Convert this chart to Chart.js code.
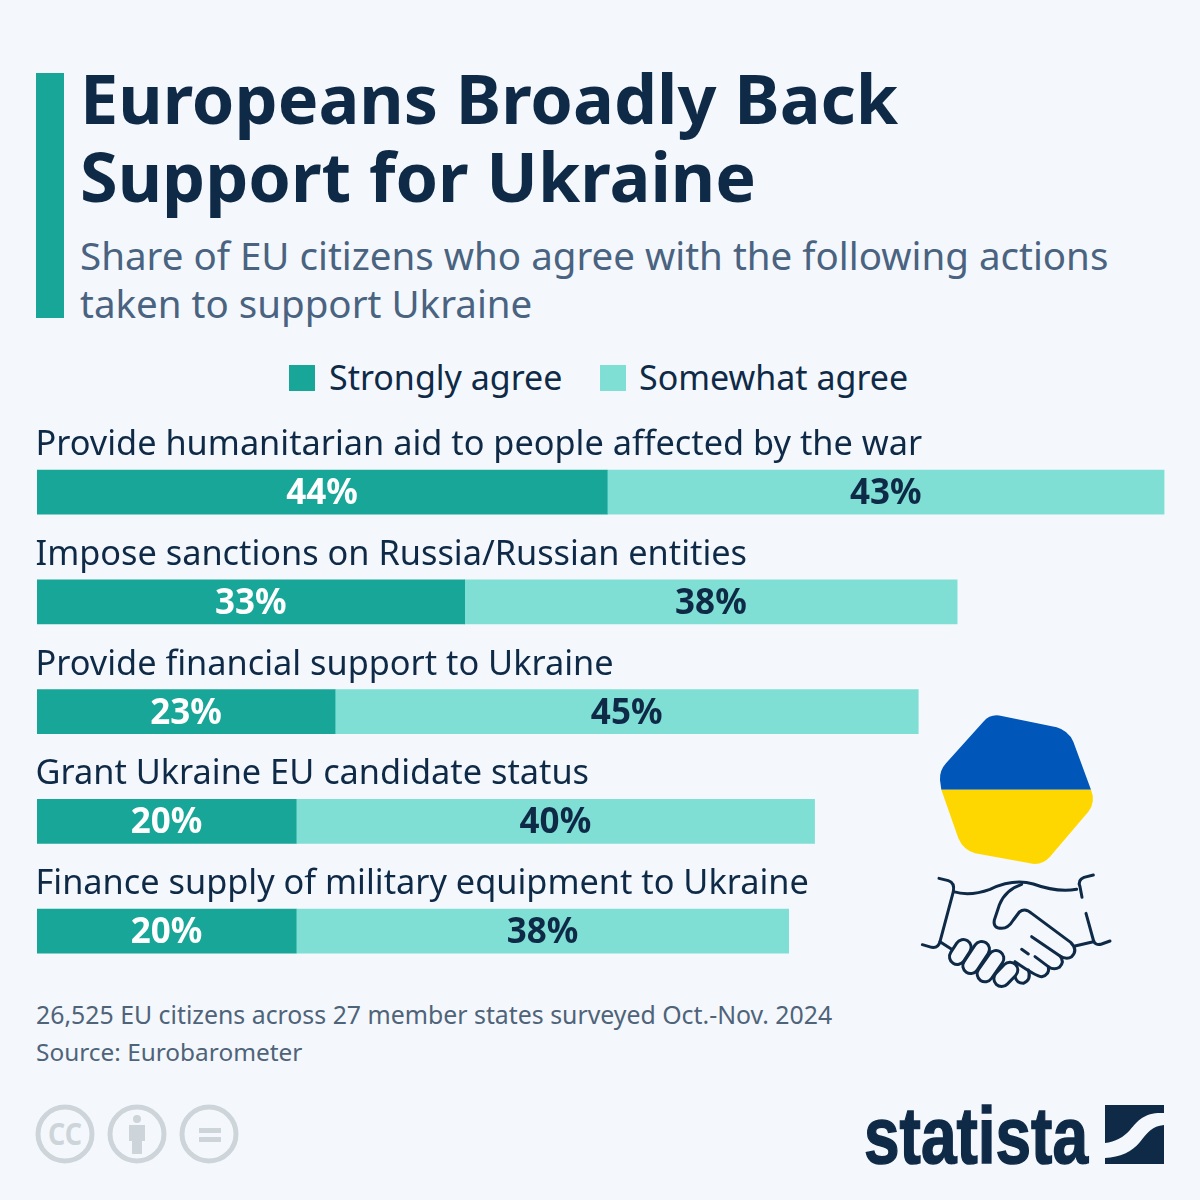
<!DOCTYPE html>
<html>
<head>
<meta charset="utf-8">
<script src="https://cdn.jsdelivr.net/npm/chart.js@4"></script>
<style>
  html, body { margin: 0; padding: 0; background: #f4f8fc; }
  body { position: relative; width: 1200px; height: 1200px; overflow: hidden; font-family: "Noto Sans", sans-serif; }
  .abs { position: absolute; white-space: nowrap; }
  #accent { left: 36px; top: 73px; width: 28px; height: 245px; background: #17a697; }
  #title { left: 80px; top: 59px; font-size: 68.3px; line-height: 78px; font-weight: 700; color: #0f2a47; }
  #subtitle { left: 80px; top: 231px; font-size: 38.5px; line-height: 48px; color: #4a6380; }
  .note { left: 36px; line-height: 30px; color: #4f6379; }
  .legendBox { top: 365px; width: 26px; height: 26px; }
  .legendText { top: 354px; font-size: 34px; line-height: 46px; color: #0f2a47; }
  #chartWrap { position: absolute; left: 0; top: 407px; width: 1200px; height: 583px; }
  svg { position: absolute; }
</style>
</head>
<body>
<div class="abs" id="accent"></div>
<div class="abs" id="title">Europeans Broadly Back<br>Support for Ukraine</div>
<div class="abs" id="subtitle">Share of EU citizens who agree with the following actions<br>taken to support Ukraine</div>

<div id="legend"></div>
<div id="chartWrap"><canvas id="myChart"></canvas></div>

<div class="abs note" style="top:999px;font-size:24.85px">26,525 EU citizens across 27 member states surveyed Oct.-Nov. 2024</div>
<div class="abs note" style="top:1037px;font-size:24.4px">Source: Eurobarometer</div>

<!-- flag and handshake, viewBox is the 3x crop of that corner -->
<svg style="left:900px;top:700px" width="230" height="300" viewBox="0 0 690 900">
  <path fill="#0056b9" d="M120 240 Q118 212 138 190 L250 65 Q272 40 305 48 L470 82 Q505 92 520 125 L573 269 H124 Z"/>
  <path fill="#ffd700" d="M124 269 H573 Q588 305 565 335 L450 470 Q425 498 390 490 L225 460 Q190 450 175 415 Z"/>
  <g fill="none" stroke="#0f2a47" stroke-width="9" stroke-linecap="round" stroke-linejoin="round">
    <path d="M117 535 L145 542 Q165 548 160 575 L120 725 Q115 745 95 742 L67 734"/>
    <path d="M160 575 Q210 590 270 568 Q340 535 400 552 Q470 578 530 568"/>
    <path d="M580 525 L552 532 Q532 540 540 560 L546 592"/>
    <path d="M558 640 L580 720 Q585 738 605 732 L630 723"/>
    <path d="M525 738 L580 725"/>
    <path d="M120 725 L155 748"/>
    <path d="M365 553 Q315 570 298 615 L283 660 Q278 685 305 685 Q325 685 340 660 L358 636 Q375 622 395 640 L512 727 Q535 750 515 770 Q500 780 480 768"/>
    <path d="M395 710 L480 768 Q495 785 478 802 Q462 812 445 800 L405 770"/>
    <path d="M365 748 L385 762"/>
    <path d="M445 800 Q450 825 425 830 Q410 830 345 785"/>
    <path d="M385 810 Q395 840 370 850 Q350 850 345 830"/>
  </g>
  <!-- fingers: navy capsule with a background capsule on top -->
  <g stroke-linecap="round">
    <line x1="330" y1="810" x2="305" y2="836" stroke="#0f2a47" stroke-width="56"/>
    <line x1="330" y1="810" x2="305" y2="836" stroke="#f4f8fc" stroke-width="38"/>
    <line x1="288" y1="775" x2="255" y2="822" stroke="#0f2a47" stroke-width="56"/>
    <line x1="288" y1="775" x2="255" y2="822" stroke="#f4f8fc" stroke-width="38"/>
    <line x1="245" y1="748" x2="212" y2="797" stroke="#0f2a47" stroke-width="56"/>
    <line x1="245" y1="748" x2="212" y2="797" stroke="#f4f8fc" stroke-width="38"/>
    <line x1="190" y1="742" x2="172" y2="770" stroke="#0f2a47" stroke-width="56"/>
    <line x1="190" y1="742" x2="172" y2="770" stroke="#f4f8fc" stroke-width="38"/>
  </g>
</svg>

<!-- licence badges -->
<svg style="left:30px;top:1100px" width="220" height="70" viewBox="30 1100 220 70">
  <g fill="none" stroke="#cdd5da" stroke-width="5">
    <circle cx="65" cy="1134" r="27"/>
    <circle cx="137" cy="1134" r="27"/>
    <circle cx="209" cy="1134" r="27"/>
  </g>
  <text x="48" y="1145" font-family="Noto Sans" font-weight="700" font-size="30" fill="#cdd5da" textLength="34" lengthAdjust="spacingAndGlyphs">CC</text>
  <circle cx="137" cy="1119" r="4" fill="#cdd5da"/>
  <rect x="129" y="1125" width="16" height="16" fill="#cdd5da"/>
  <rect x="132" y="1140" width="10" height="14" fill="#cdd5da"/>
  <rect x="199" y="1128" width="22" height="5" fill="#cdd5da"/>
  <rect x="199" y="1137" width="22" height="5" fill="#cdd5da"/>
</svg>

<!-- statista logo -->
<svg style="left:850px;top:1090px" width="330" height="90" viewBox="850 1090 330 90">
  <text x="864" y="1163" font-family="Liberation Sans Narrow, Liberation Sans" font-weight="700" font-size="80" fill="#0f2a47" stroke="#0f2a47" stroke-width="1.5" textLength="224" lengthAdjust="spacingAndGlyphs">statista</text>
  <path fill="#0f2a47" d="M1105 1105 H1164 V1113 C1145 1112 1138 1120 1130 1130 C1124 1137 1115 1142 1105 1143 Z"/>
  <path fill="#0f2a47" d="M1105 1158 C1120 1157 1132 1152 1140 1142 C1147 1133 1152 1126 1164 1125 V1164 H1105 Z"/>
</svg>

<script>
const categories = [
  'Provide humanitarian aid to people affected by the war',
  'Impose sanctions on Russia/Russian entities',
  'Provide financial support to Ukraine',
  'Grant Ukraine EU candidate status',
  'Finance supply of military equipment to Ukraine'
];
const stronglyAgree = [44, 33, 23, 20, 20];
const somewhatAgree = [43, 38, 45, 40, 38];
const seriesNames = ['Strongly agree', 'Somewhat agree'];
const seriesColors = ['#17a697', '#7fdfd4'];

// legend in html, the gap between box and text is tighter than Chart.js allows
const legendBoxX = [289, 600];
const legendTextX = [329, 639];
seriesNames.forEach((name, i) => {
  const box = document.createElement('div');
  box.className = 'abs legendBox';
  box.style.left = legendBoxX[i] + 'px';
  box.style.background = seriesColors[i];
  const label = document.createElement('div');
  label.className = 'abs legendText';
  label.style.left = legendTextX[i] + 'px';
  label.textContent = name;
  document.getElementById('legend').append(box, label);
});

// category text above each bar, percent text inside each segment
const barText = {
  id: 'barText',
  afterDatasetsDraw(chart) {
    const ctx = chart.ctx;
    const y = chart.scales.y;
    ctx.save();
    categories.forEach((c, i) => {
      ctx.font = '34.3px "Noto Sans"';
      ctx.fillStyle = '#0f2a47';
      ctx.textAlign = 'left';
      ctx.textBaseline = 'alphabetic';
      ctx.fillText(c, 35.5, y.getPixelForValue(i) - 37);
    });
    chart.data.datasets.forEach((ds, d) => {
      chart.getDatasetMeta(d).data.forEach((bar, i) => {
        ctx.font = 'bold 35px "Noto Sans"';
        ctx.fillStyle = d === 0 ? '#ffffff' : '#0f2a47';
        ctx.textAlign = 'center';
        ctx.textBaseline = 'middle';
        ctx.fillText(ds.data[i] + '%', (bar.x + bar.base) / 2, bar.y + 2);
      });
    });
    ctx.restore();
  }
};

new Chart(document.getElementById('myChart'), {
  type: 'bar',
  data: {
    labels: categories,
    datasets: [
      { label: seriesNames[0], data: stronglyAgree, backgroundColor: seriesColors[0], barThickness: 44 },
      { label: seriesNames[1], data: somewhatAgree, backgroundColor: seriesColors[1], barThickness: 44 }
    ]
  },
  options: {
    indexAxis: 'y',
    responsive: true,
    maintainAspectRatio: false,
    animation: false,
    layout: { padding: { left: 37, right: 35.5, top: 30.3, bottom: 4 } },
    scales: {
      x: { stacked: true, display: false, min: 0, max: 87 },
      y: { stacked: true, display: false }
    },
    plugins: {
      tooltip: { enabled: false },
      legend: { display: false }
    }
  },
  plugins: [barText]
});
</script>
</body>
</html>
